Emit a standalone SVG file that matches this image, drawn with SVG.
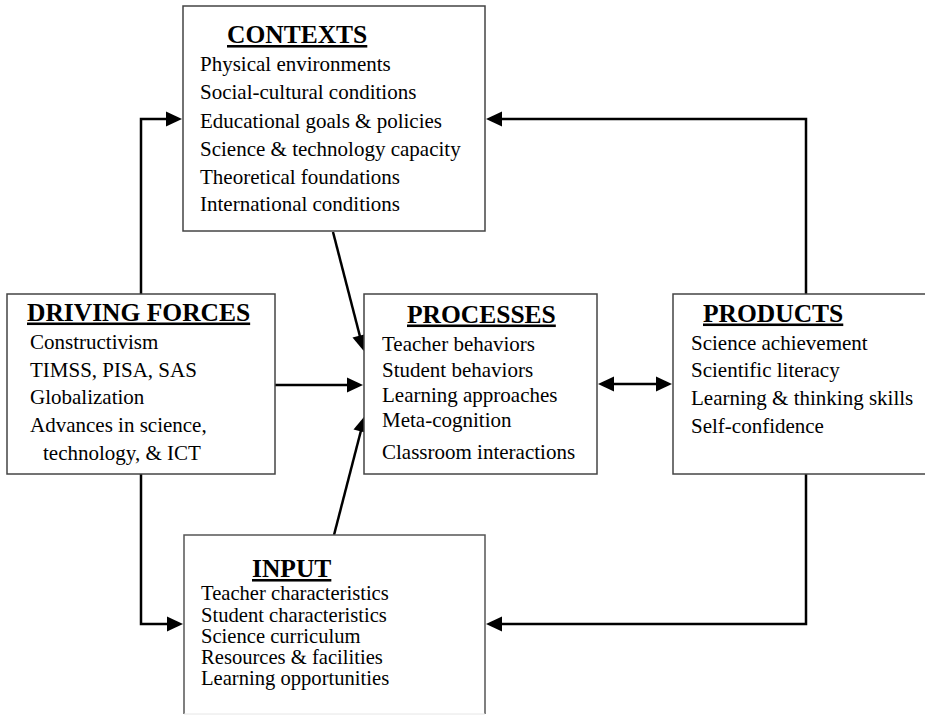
<svg xmlns="http://www.w3.org/2000/svg" width="925" height="715" viewBox="0 0 925 715">
<style>
  .box { fill: #ffffff; stroke: #444444; stroke-width: 1.5; }
  .title { font-family: "Liberation Serif", "Times New Roman", serif; font-weight: bold; font-size: 25.5px; text-decoration: underline; fill: #000; }
  .item { font-family: "Liberation Serif", "Times New Roman", serif; font-size: 21px; fill: #000; }
  .item2 { font-family: "Liberation Serif", "Times New Roman", serif; font-size: 20.6px; fill: #000; }
  .conn { fill: none; stroke: #000; stroke-width: 2.5; }
</style>
<defs>
  <marker id="ah" markerUnits="userSpaceOnUse" markerWidth="17" markerHeight="15" refX="1" refY="7.5" orient="auto-start-reverse" overflow="visible">
    <path d="M0,0 L16,7.5 L0,15 z" fill="#000"/>
  </marker>
</defs>
<rect width="925" height="715" fill="#ffffff"/>

<g id="connectors">
  <path class="conn" d="M141,294 V119 H167" marker-end="url(#ah)"/>
  <path class="conn" d="M333,232 L360,336.5" marker-end="url(#ah)"/>
  <path class="conn" d="M275,385 H348" marker-end="url(#ah)"/>
  <path class="conn" d="M334,535 L361,430.5" marker-end="url(#ah)"/>
  <path class="conn" d="M613,384 H657" marker-start="url(#ah)" marker-end="url(#ah)"/>
  <path class="conn" d="M806,294 V119 H501" marker-end="url(#ah)"/>
  <path class="conn" d="M141,474 V624 H168" marker-end="url(#ah)"/>
  <path class="conn" d="M806,474 V624 H501" marker-end="url(#ah)"/>
</g>

<g id="contexts">
  <rect class="box" x="183" y="6" width="302" height="225"/>
  <text class="title" x="227" y="43">CONTEXTS</text>
  <text class="item" x="200" y="71">Physical environments</text>
  <text class="item" x="200" y="99">Social-cultural conditions</text>
  <text class="item" x="200" y="127.5">Educational goals &amp; policies</text>
  <text class="item" x="200" y="155.5">Science &amp; technology capacity</text>
  <text class="item" x="200" y="183.5">Theoretical foundations</text>
  <text class="item" x="200" y="211">International conditions</text>
</g>

<g id="driving-forces">
  <rect class="box" x="7" y="294" width="268" height="180"/>
  <text class="title" x="27" y="320.5">DRIVING FORCES</text>
  <text class="item" x="30" y="349">Constructivism</text>
  <text class="item" x="30" y="376.5">TIMSS, PISA, SAS</text>
  <text class="item" x="30" y="404">Globalization</text>
  <text class="item" x="30" y="431.5">Advances in science,</text>
  <text class="item" x="43" y="459.5">technology, &amp; ICT</text>
</g>

<g id="processes">
  <rect class="box" x="364" y="294" width="233" height="180"/>
  <text class="title" x="407" y="322.5">PROCESSES</text>
  <text class="item" x="382" y="350.5">Teacher behaviors</text>
  <text class="item" x="382" y="376.5">Student behaviors</text>
  <text class="item" x="382" y="401.5">Learning approaches</text>
  <text class="item" x="382" y="426.5">Meta-cognition</text>
  <text class="item" x="382" y="459">Classroom interactions</text>
</g>

<g id="products">
  <rect class="box" x="673" y="294" width="260" height="180"/>
  <text class="title" x="703" y="321.5">PRODUCTS</text>
  <text class="item" x="691" y="350">Science achievement</text>
  <text class="item" x="691" y="377">Scientific literacy</text>
  <text class="item" x="691" y="405">Learning &amp; thinking skills</text>
  <text class="item" x="691" y="432.5">Self-confidence</text>
</g>

<g id="input">
  <rect x="184" y="535" width="301" height="179" fill="#ffffff"/>
  <path d="M184,714 V535 H485 V714" fill="none" stroke="#555555" stroke-width="1.5"/>
  <path d="M184,714 H485" fill="none" stroke="#e6e6e6" stroke-width="1"/>
  <text class="title" x="252" y="577">INPUT</text>
  <text class="item2" x="201" y="600">Teacher characteristics</text>
  <text class="item2" x="201" y="621.5">Student characteristics</text>
  <text class="item2" x="201" y="643">Science curriculum</text>
  <text class="item2" x="201" y="664">Resources &amp; facilities</text>
  <text class="item2" x="201" y="685">Learning opportunities</text>
</g>
</svg>
